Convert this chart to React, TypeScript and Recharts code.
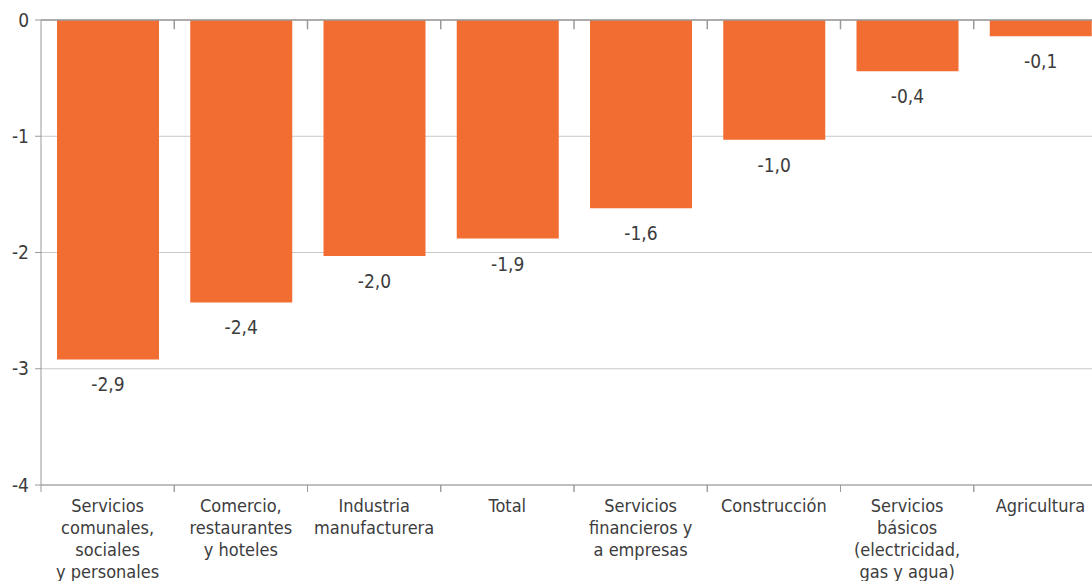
import React from "react";
import { BarChart, Bar, XAxis, YAxis, CartesianGrid, LabelList, ReferenceLine } from "recharts";

const categories = [
  "Servicios comunales, sociales y personales",
  "Comercio, restaurantes y hoteles",
  "Industria manufacturera",
  "Total",
  "Servicios financieros y a empresas",
  "Construcción",
  "Servicios básicos (electricidad, gas y agua)",
  "Agricultura",
];
const categoryLines = [
  ["Servicios", "comunales,", "sociales", "y personales"],
  ["Comercio,", "restaurantes", "y hoteles"],
  ["Industria", "manufacturera"],
  ["Total"],
  ["Servicios", "financieros y", "a empresas"],
  ["Construcción"],
  ["Servicios", "básicos", "(electricidad,", "gas y agua)"],
  ["Agricultura"],
];
const values = [-2.92, -2.43, -2.03, -1.88, -1.62, -1.03, -0.44, -0.14];
const yTicks = [0, -1, -2, -3, -4];
const TOP_TICK_LEN = -0.08;

const data = categories.map((name, i) => ({ name, value: values[i] }));

const FONT = "'DejaVu Sans Condensed', 'Liberation Sans Narrow', 'Roboto', sans-serif";
const TEXT = "#3c3c3c";
const AXIS = "#9a9a9a";
const BAR = "#F26D32";

const fmt = (v: number) => v.toFixed(1).replace(".", ",");

const BottomTick = (props: any) => {
  const { x, y, payload, index } = props;
  const off = payload.offset || 0;
  const lines = categoryLines[index] || [];
  return (
    <g>
      <line x1={x - off} x2={x - off} y1={y} y2={y + 7} stroke={AXIS} strokeWidth={1} />
      <line x1={x + off} x2={x + off} y1={y} y2={y + 7} stroke={AXIS} strokeWidth={1} />
      <text x={x} y={y} textAnchor="middle" fill={TEXT} fontSize={18} fontFamily={FONT}>
        {lines.map((l, i) => (
          <tspan key={i} x={x} y={y + 27 + i * 22}>
            {l}
          </tspan>
        ))}
      </text>
    </g>
  );
};

const ValueLabel = (props: any) => {
  const { x, y, width, height, value } = props;
  const bottom = Math.max(y, y + height);
  return (
    <text x={x + width / 2} y={bottom + 32} textAnchor="middle" fill={TEXT} fontSize={19} fontFamily={FONT}>
      {fmt(value)}
    </text>
  );
};

export default function App() {
  return (
    <div style={{ position: "absolute", left: 0, top: 0, width: 1092, height: 581, overflow: "hidden", background: "#fff" }}>
      <BarChart
        width={1110}
        height={581}
        data={data}
        margin={{ top: 20, right: 3, left: 0, bottom: 0 }}
        barSize={102}
      >
        <CartesianGrid vertical={false} stroke="#c8c8c8" strokeWidth={1} />
        <XAxis
          dataKey="name"
          height={96}
          axisLine={{ stroke: AXIS }}
          tickLine={false}
          tickSize={0}
          tickMargin={0}
          interval={0}
          tick={<BottomTick />}
        />
        <YAxis
          domain={[-4, 0]}
          ticks={yTicks}
          width={41}
          axisLine={{ stroke: AXIS }}
          tickLine={{ stroke: AXIS }}
          tickSize={6}
          tickMargin={6}
          tick={{ fill: TEXT, fontSize: 19, fontFamily: FONT }}
          interval={0}
          allowDataOverflow
        />
        <ReferenceLine y={0} stroke={AXIS} strokeWidth={1.5} />
        {categories.slice(0, categories.length - 1).map((c) => (
          <ReferenceLine
            key={c}
            position="end"
            segment={[
              { x: c, y: 0 },
              { x: c, y: TOP_TICK_LEN },
            ]}
            stroke={AXIS}
            strokeWidth={1.5}
          />
        ))}
        <Bar dataKey="value" fill={BAR} isAnimationActive={false}>
          <LabelList dataKey="value" content={<ValueLabel />} />
        </Bar>
      </BarChart>
    </div>
  );
}
